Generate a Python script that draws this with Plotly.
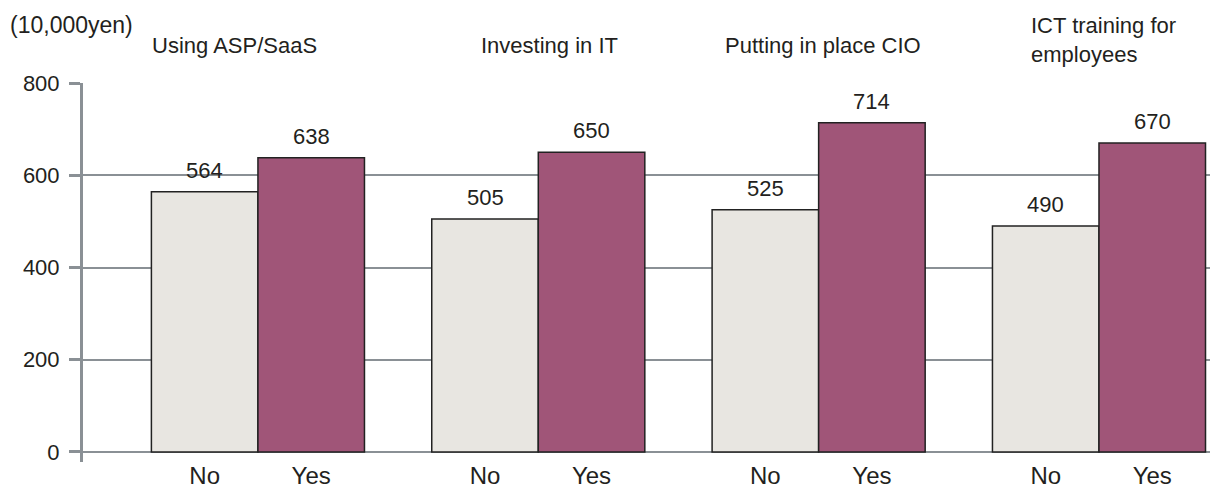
import plotly.graph_objects as go

# ---- data ----
groups = ["Using ASP/SaaS", "Investing in IT", "Putting in place CIO", "ICT training for<br>employees"]
answers = ["No", "Yes"]
no_values = [564, 505, 525, 490]
yes_values = [638, 650, 714, 670]
y_ticks = [0, 200, 400, 600, 800]
unit_label = "(10,000yen)"

# ---- style ----
FONT = "Liberation Sans, Arial, Helvetica, sans-serif"
TXT = "#231f20"
GRID = "#8a9095"
NO_COLOR = "#e8e6e1"
YES_COLOR = "#a05578"
BAR_W = 0.38
FS = 22

idx = list(range(len(groups)))
x_no = [i - BAR_W / 2 for i in idx]
x_yes = [i + BAR_W / 2 for i in idx]

fig = go.Figure()
fig.add_trace(go.Bar(x=x_no, y=no_values, width=BAR_W, name="No",
                     marker=dict(color=NO_COLOR, line=dict(color="#222222", width=1.5))))
fig.add_trace(go.Bar(x=x_yes, y=yes_values, width=BAR_W, name="Yes",
                     marker=dict(color=YES_COLOR, line=dict(color="#222222", width=1.5))))

annotations = []
for xs, vals in ((x_no, no_values), (x_yes, yes_values)):
    for x, v in zip(xs, vals):
        annotations.append(dict(x=x, y=v, xref="x", yref="y", text=str(v), showarrow=False,
                                yanchor="bottom", yshift=7, font=dict(size=FS, color=TXT, family=FONT)))

title_shift = [-23, 11, 4, 5]
title_y = [1.100, 1.100, 1.100, 1.1135]
for i, (g, sh, ty) in enumerate(zip(groups, title_shift, title_y)):
    annotations.append(dict(x=i, y=ty, xref="x", yref="paper", text=g, showarrow=False,
                            xanchor="center", yanchor="middle", align="left", xshift=sh,
                            font=dict(size=FS, color=TXT, family=FONT)))

annotations.append(dict(x=-0.0666, y=1.153, xref="paper", yref="paper", text=unit_label,
                        showarrow=False, xanchor="left", yanchor="middle",
                        font=dict(size=23, color=TXT, family=FONT)))

tickvals = []
ticktext = []
for a, b in zip(x_no, x_yes):
    tickvals += [a, b]
    ticktext += answers

fig.update_layout(
    width=1210, height=488,
    margin=dict(l=83, r=0, t=83, b=26, autoexpand=False),
    plot_bgcolor="white", paper_bgcolor="white",
    barmode="overlay",
    showlegend=False,
    annotations=annotations,
    font=dict(family=FONT, size=FS, color=TXT),
    xaxis=dict(range=[-0.624, 3.396], tickvals=tickvals, ticktext=ticktext,
               showgrid=False, zeroline=False, showline=False, ticks="",
               ticklabelstandoff=-3, automargin=False,
               tickfont=dict(size=24, color=TXT, family=FONT)),
    yaxis=dict(range=[-21.7, 800], tickvals=y_ticks, showgrid=True, gridcolor=GRID, gridwidth=2,
               zeroline=False, showline=True, linecolor=GRID, linewidth=3,
               ticks="outside", ticklen=11, tickwidth=3, tickcolor=GRID,
               ticklabelstandoff=5, automargin=False,
               tickfont=dict(size=FS, color=TXT, family=FONT)),
)

fig.write_html("out.html", config={"displayModeBar": False},
               post_script="document.body.style.margin='0';document.body.style.overflow='hidden';")
